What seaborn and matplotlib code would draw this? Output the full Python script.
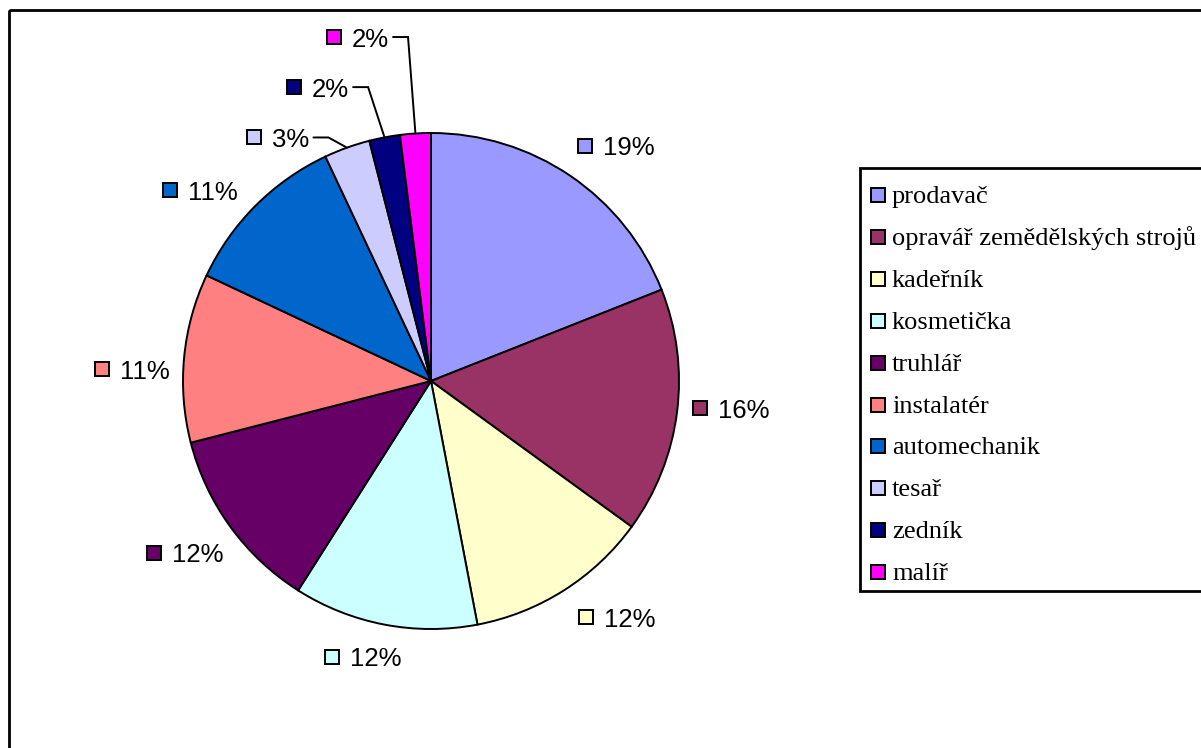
import numpy as np
import matplotlib
matplotlib.use("Agg")
import matplotlib.pyplot as plt
from matplotlib.patches import Rectangle
import seaborn as sns

# Professions and their share in percent
professions = ["prodavač", "opravář zemědělských strojů", "kadeřník", "kosmetička",
               "truhlář", "instalatér", "automechanik", "tesař", "zedník", "malíř"]
shares = [19, 16, 12, 12, 12, 11, 11, 3, 2, 2]
colors = ["#9999FF", "#993366", "#FFFFCC", "#CCFFFF", "#660066",
          "#FF8080", "#0066CC", "#CCCCFF", "#000080", "#FF00FF"]

sns.set_theme(style="white")
plt.rcParams["font.family"] = ["Liberation Sans", "DejaVu Sans"]

W, H = 1201, 748
fig = plt.figure(figsize=(W / 100, H / 100), dpi=100)
fig.patch.set_facecolor("white")

# Overlay axes in pixel units for the frame and the legend
over = fig.add_axes([0, 0, 1, 1], zorder=0)
over.set_xlim(0, W)
over.set_ylim(H, 0)
over.axis("off")

# Pie axes: centre (431, 381) px, radius 248 px
cx, cy, r = 431, 381, 248
ax = fig.add_axes([(cx - r) / W, (H - cy - r) / H, 2 * r / W, 2 * r / H], zorder=2)
palette = sns.color_palette(colors)
wedges, _ = ax.pie(shares, colors=palette, startangle=90, counterclock=False,
                   wedgeprops=dict(edgecolor="black", linewidth=1.4))
ax.set_xlim(-1, 1)
ax.set_ylim(-1, 1)
ax.set_aspect("equal")
ax.axis("off")

# Label anchor (centre of the colour key) for each slice, in pie radius units
label_xy = [(0.621, 0.948), (1.085, -0.109), (0.623, -0.952), (-0.401, -1.111),
            (-1.117, -0.692), (-1.325, 0.048), (-1.052, 0.770), (-0.712, 0.982),
            (-0.552, 1.185), (-0.391, 1.387)]
px = 1.0 / r                     # one pixel in pie units
key = 14 * px                    # colour key size
for w, val, col, (lx, ly) in zip(wedges, shares, palette, label_xy):
    ax.add_patch(Rectangle((lx - key / 2, ly - key / 2), key, key, facecolor=col,
                           edgecolor="black", linewidth=1.4, clip_on=False, zorder=3))
    ax.annotate(f"{val}%", xy=(lx, ly), xytext=(18 * 0.72, -9.5 * 0.72),
                textcoords="offset points", ha="left", va="baseline",
                fontsize=18.5, color="black", annotation_clip=False, zorder=3)
    if val < 5:
        # leader line: short horizontal run, then down to the slice edge
        mid = np.deg2rad((w.theta1 + w.theta2) / 2)
        ex, ey = np.cos(mid), np.sin(mid)
        x0 = lx + 59 * px
        x1 = x0 + 15 * px
        ax.plot([x0, x1, ex], [ly, ly, ey], color="black", linewidth=1.4,
                clip_on=False, zorder=3, solid_joinstyle="miter")

# Outer chart frame (runs off the right and bottom edges)
over.add_patch(Rectangle((8.5, 10), W + 20, H + 20, facecolor="none",
                         edgecolor="black", linewidth=2.0))

# Legend box and entries
leg_left, leg_top, leg_bottom = 860, 168, 591
over.add_patch(Rectangle((leg_left, leg_top), W + 20 - leg_left, leg_bottom - leg_top,
                         facecolor="white", edgecolor="black", linewidth=2.0, zorder=1))
row0, pitch = 195, 41.9
for i, (name, col) in enumerate(zip(professions, palette)):
    yc = row0 + i * pitch
    over.add_patch(Rectangle((871, yc - 7), 14, 14, facecolor=col, edgecolor="black",
                             linewidth=1.4, zorder=2))
    over.text(892, yc + 8, name, ha="left", va="baseline", fontsize=19,
              family=["Liberation Serif", "DejaVu Serif"], color="black", zorder=2)

fig.savefig("out.png", dpi=100, facecolor="white")
